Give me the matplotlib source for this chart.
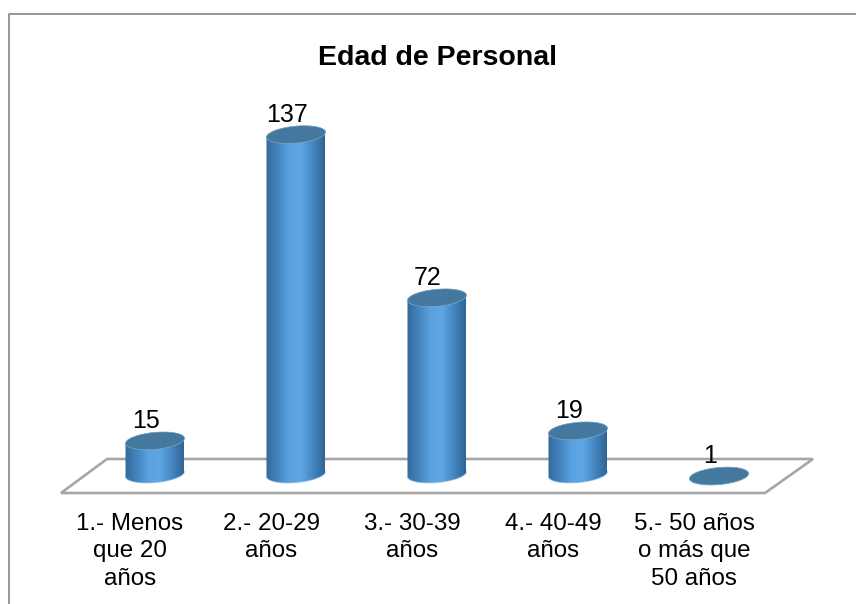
"""Edad de Personal: columnas cilindricas estilo Excel 3D."""
import numpy as np
import matplotlib
matplotlib.use("Agg")
import matplotlib.pyplot as plt
from matplotlib.colors import LinearSegmentedColormap
from matplotlib.lines import Line2D
from matplotlib.path import Path
from matplotlib.patches import PathPatch, Polygon

plt.rcParams['font.family'] = ['Liberation Sans', 'DejaVu Sans']

# -- Datos --
categorias = ["1.- Menos\nque 20\naños", "2.- 20-29\naños", "3.- 30-39\naños",
              "4.- 40-49\naños", "5.- 50 años\no más que\n50 años"]
valores = [15, 137, 72, 19, 1]
titulo = "Edad de Personal"

# -- Geometria en pixeles de la referencia --
W, H = 856, 604
PX_X0, PX_CAT = 155.0, 141.0   # centro de la 1a columna, paso entre columnas
PX_Y0, PX_VAL = 478.5, 2.51    # linea base, pixeles por unidad
RX = 29.5 / PX_CAT             # semiancho del cilindro
RY = 8.5 / PX_VAL              # semialto de la elipse
TILT = 0.085 * PX_CAT / PX_VAL  # la elipse sube hacia la derecha
BASE = 1.8                     # el pie de la columna queda algo sobre el cero

GRIS = "#a6a6a6"
grad = LinearSegmentedColormap.from_list(
    "cil", ["#35699b", "#4384bd", "#5ba2e0", "#5ea6e4", "#4586bf", "#2f6595"])
TAPA = "#44789f"


def x_px(px):
    return (px - PX_X0) / PX_CAT


def y_px(py):
    return (PX_Y0 - py) / PX_VAL


def elipse(x, y, t):
    return x + RX * np.cos(t), y + RY * np.sin(t) + TILT * RX * np.cos(t)


def cilindro(ax, x, v):
    # cuerpo: media elipse inferior en el pie, media superior invertida en la tapa
    base = min(BASE, v)
    t_base = np.linspace(np.pi, 2 * np.pi, 50)
    t_top = np.linspace(2 * np.pi, np.pi, 50)
    xb, yb = elipse(x, base, t_base)
    xt, yt = elipse(x, v, t_top)
    pts = np.column_stack([np.r_[xb, xt], np.r_[yb, yt]])
    cuerpo = PathPatch(Path(np.vstack([pts, pts[0]]), closed=True),
                       fc="none", ec="none", zorder=3)
    ax.add_patch(cuerpo)
    im = ax.imshow(np.linspace(0, 1, 128)[None, :], cmap=grad, aspect="auto",
                   extent=(x - RX, x + RX, base - 2 * RY, v + 2 * RY), zorder=3)
    im.set_clip_path(cuerpo)
    # reflejo claro en el borde inferior
    ax.plot(xb, yb, color="#7db4e6", lw=0.8, alpha=0.6, zorder=3)
    # tapa
    tt = np.linspace(0, 2 * np.pi, 100)
    xe, ye = elipse(x, v, tt)
    ax.add_patch(Polygon(np.column_stack([xe, ye]), closed=True, fc=TAPA,
                         ec="#6f9cc0", lw=0.5, zorder=4))


fig = plt.figure(figsize=(W / 100, H / 100), dpi=100, facecolor="white")
ax = fig.add_axes([0, 0, 1, 1])
ax.set_axis_off()

# suelo
suelo = [(61, 493), (765, 493), (813, 459), (107, 459)]
ax.add_patch(Polygon([(x_px(a), y_px(b)) for a, b in suelo], closed=True,
                     fc="white", ec=GRIS, lw=1.9, zorder=1))

for i, (cat, v) in enumerate(zip(categorias, valores)):
    cilindro(ax, i, v)
    ax.text(i - 0.064, v + 5.0, str(v), ha="center", va="baseline",
            fontsize=18, color="black", zorder=5)
    ax.text(i - 0.177, y_px(513), cat, ha="center", va="top", fontsize=17.4,
            color="black", linespacing=1.31, zorder=5)

ax.text(x_px(438), y_px(58), titulo, ha="center", va="center", fontsize=20.5,
        fontweight="bold", color="black")

ax.set_xlim(x_px(0), x_px(W))
ax.set_ylim(y_px(H), y_px(0))

# borde del area del grafico, cortado por la derecha y abajo
fig.add_artist(Line2D([9 / W, 9 / W, 1], [0, 1 - 14 / H, 1 - 14 / H],
                      color="#8f8f8f", lw=1.3))

fig.savefig("out.png", dpi=100)
